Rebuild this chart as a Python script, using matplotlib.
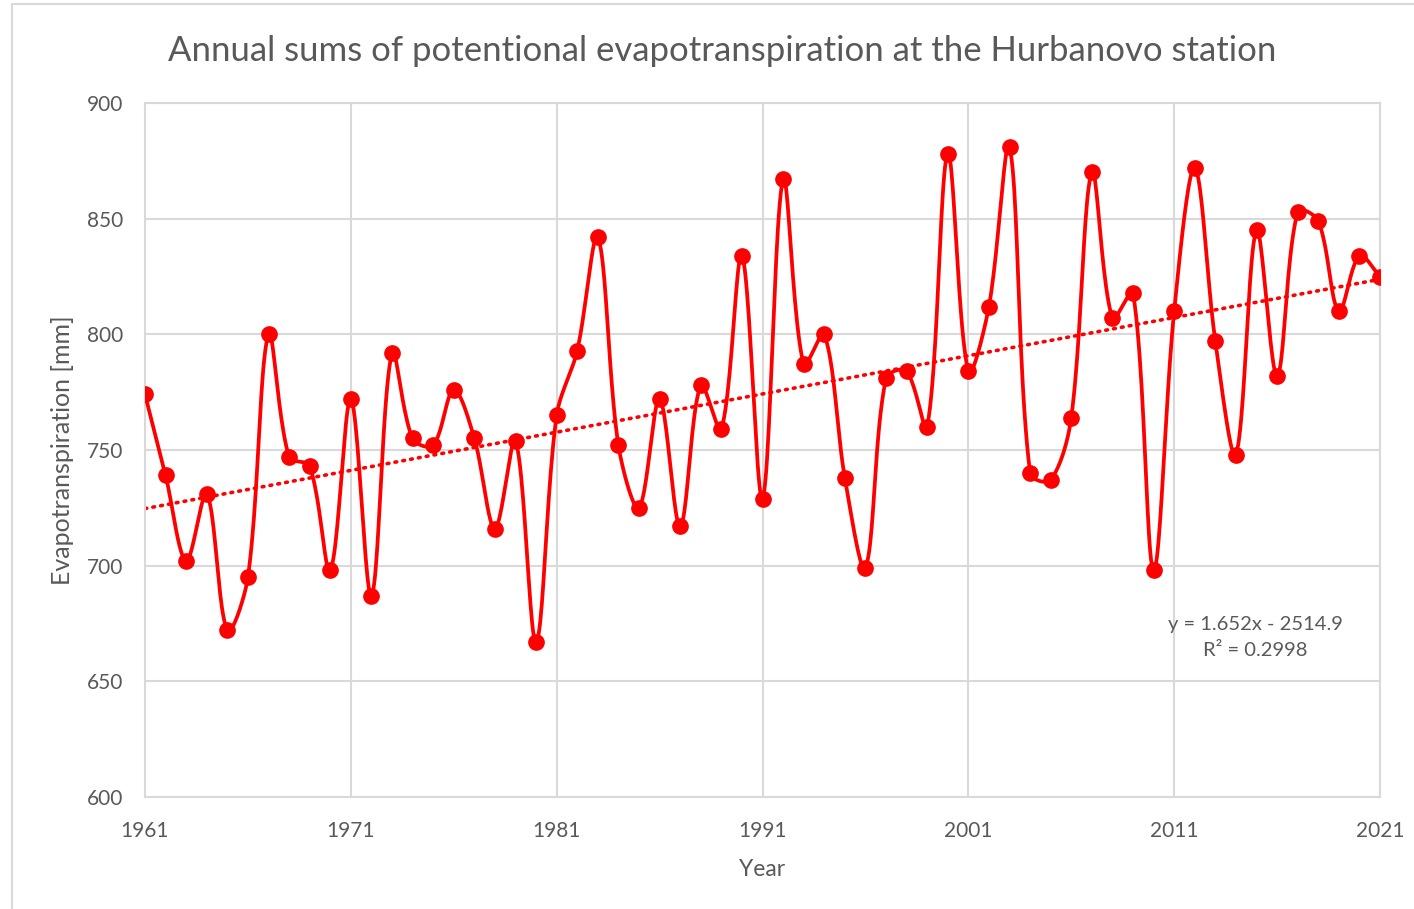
import numpy as np
import matplotlib.pyplot as plt
from matplotlib.patches import Rectangle

# annual potential evapotranspiration at Hurbanovo, mm
years = list(range(1961, 2022))
pet = [774, 739, 702, 731, 672, 695, 800, 747, 743, 698,
       772, 687, 792, 755, 752, 776, 755, 716, 754, 667,
       765, 793, 842, 752, 725, 772, 717, 778, 759, 834,
       729, 867, 787, 800, 738, 699, 781, 784, 760, 878,
       784, 812, 881, 740, 737, 764, 870, 807, 818, 698,
       810, 872, 797, 748, 845, 782, 853, 849, 810, 834,
       825]
trend_slope = 1.652
trend_icept = -2514.9
trend_r2 = 0.2998
xticks = [1961, 1971, 1981, 1991, 2001, 2011, 2021]
yticks = [600, 650, 700, 750, 800, 850, 900]


def smooth(x, y, sx=20.58, sy=2.313, n=24):
    # bezier smoothing roughly like the spreadsheet "smoothed line":
    # control arms shortened by the ratio of neighbouring segment lengths (in pixels)
    P = np.column_stack([np.asarray(x, float), np.asarray(y, float)])
    S = np.array([sx, sy])
    m = len(P)
    t = np.linspace(0, 1, n)[1:, None]
    out = [P[0]]
    for i in range(m - 1):
        p0, p1, p2, p3 = P[max(i - 1, 0)], P[i], P[i + 1], P[min(i + 2, m - 1)]
        d01 = np.hypot(*((p1 - p0) * S))
        d12 = np.hypot(*((p2 - p1) * S))
        d23 = np.hypot(*((p3 - p2) * S))
        c1 = p1 + (p2 - p0) / 3 * d12 / (d01 + d12)
        c2 = p2 - (p3 - p1) / 3 * d12 / (d12 + d23)
        b = (1 - t) ** 3 * p1 + 3 * (1 - t) ** 2 * t * c1 + 3 * (1 - t) * t ** 2 * c2 + t ** 3 * p2
        out.extend(b)
    out = np.array(out)
    return out[:, 0], out[:, 1]


plt.rcParams['font.family'] = ['Lato', 'DejaVu Sans']
grey = '#595959'
gridc = '#d9d9d9'

fig = plt.figure(figsize=(14.14, 9.09), dpi=100)
ax = fig.add_axes([145 / 1414, 1 - 797 / 909, 1235 / 1414, 694 / 909])

fig.patches.append(Rectangle((12 / 1414, -0.05), 1.1, 1.05 - 4 / 909,
                             transform=fig.transFigure, fill=False,
                             edgecolor=gridc, linewidth=1.5))

lx, ly = smooth(years, pet)
ax.plot(lx, ly, color='#ff0000', lw=2.7, zorder=3, solid_capstyle='round')
ax.plot(years, pet, 'o', color='#ff0000', ms=11, zorder=4)

tx = np.array([years[0], years[-1]])
ax.plot(tx, trend_slope * tx + trend_icept, color='#ff0000', lw=2.6,
        linestyle=(0, (0.5, 1.7)), dash_capstyle='round', zorder=2)

sign = '-' if trend_icept < 0 else '+'
ax.text(2014.95, 669, f'y = {trend_slope}x {sign} {abs(trend_icept)}\nR² = {trend_r2}',
        ha='center', va='center', fontsize=14.5, color=grey, linespacing=1.6)

ax.set_xlim(1961, 2021)
ax.set_ylim(600, 900)
ax.set_xticks(xticks)
ax.set_yticks(yticks)
ax.grid(True, color=gridc, lw=1.5)
ax.set_axisbelow(True)
for s in ax.spines.values():
    s.set_color(gridc)
    s.set_linewidth(1.5)
ax.tick_params(length=0, colors=grey, labelsize=15)
ax.tick_params(axis='x', pad=17)
ax.tick_params(axis='y', pad=16)
ax.set_xlabel('Year', fontsize=16.5, color=grey, labelpad=13)
ax.set_ylabel('Evapotranspiration [mm]', fontsize=18, color=grey, labelpad=9)
fig.text(0.5105, 1 - 51 / 909, 'Annual sums of potentional evapotranspiration at the Hurbanovo station',
         ha='center', va='center', fontsize=25, color=grey)

fig.savefig('out.png', dpi=100)
